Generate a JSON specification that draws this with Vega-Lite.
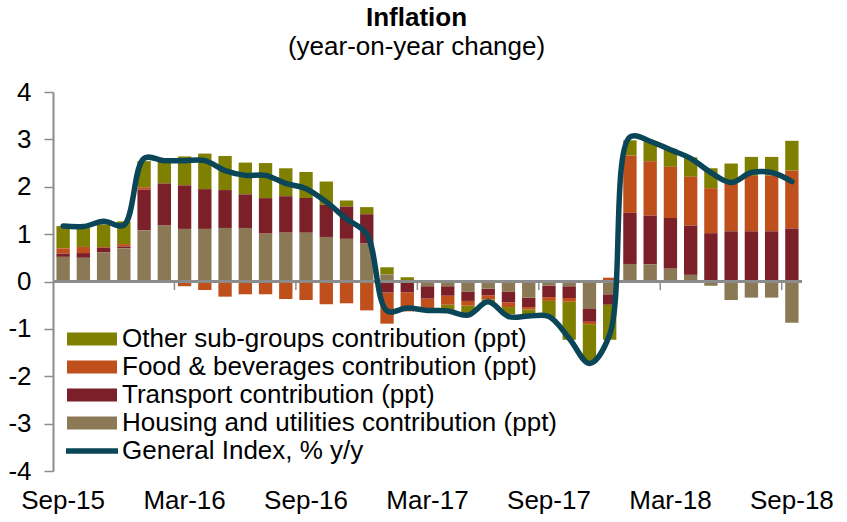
{
  "$schema": "https://vega.github.io/schema/vega-lite/v6.json",
  "width": 749,
  "height": 379,
  "autosize": "none",
  "padding": {"left": 53, "top": 92, "right": 45, "bottom": 51},
  "background": "white",
  "config": {
    "view": {"stroke": null},
    "font": "Liberation Sans",
    "axis": {"labelFont": "Liberation Sans", "labelFontSize": 26, "labelColor": "#000000", "grid": false, "title": null}
  },
  "title": {
    "text": "Inflation",
    "subtitle": "(year-on-year change)",
    "font": "Liberation Sans",
    "subtitleFont": "Liberation Sans",
    "fontSize": 26,
    "subtitleFontSize": 26,
    "fontWeight": "bold",
    "color": "#000000",
    "subtitleColor": "#000000",
    "anchor": "middle",
    "frame": "group",
    "dx": -11,
    "offset": 19,
    "subtitlePadding": 3
  },
  "data": {"values": [
    {"month": "Sep-15", "Housing and utilities contribution (ppt)": 0.52, "Transport contribution (ppt)": 0.07, "Food & beverages contribution (ppt)": 0.11, "Other sub-groups contribution (ppt)": 0.47, "general": 1.17},
    {"month": "Oct-15", "Housing and utilities contribution (ppt)": 0.50, "Transport contribution (ppt)": 0.10, "Food & beverages contribution (ppt)": 0.13, "Other sub-groups contribution (ppt)": 0.42, "general": 1.16},
    {"month": "Nov-15", "Housing and utilities contribution (ppt)": 0.61, "Transport contribution (ppt)": 0.10, "Food & beverages contribution (ppt)": 0.02, "Other sub-groups contribution (ppt)": 0.48, "general": 1.27},
    {"month": "Dec-15", "Housing and utilities contribution (ppt)": 0.70, "Transport contribution (ppt)": 0.04, "Food & beverages contribution (ppt)": 0.05, "Other sub-groups contribution (ppt)": 0.48, "general": 1.19},
    {"month": "Jan-16", "Housing and utilities contribution (ppt)": 1.08, "Transport contribution (ppt)": 0.86, "Food & beverages contribution (ppt)": 0.05, "Other sub-groups contribution (ppt)": 0.55, "general": 2.60},
    {"month": "Feb-16", "Housing and utilities contribution (ppt)": 1.18, "Transport contribution (ppt)": 0.89, "Food & beverages contribution (ppt)": 0.00, "Other sub-groups contribution (ppt)": 0.48, "general": 2.55},
    {"month": "Mar-16", "Housing and utilities contribution (ppt)": 1.11, "Transport contribution (ppt)": 0.92, "Food & beverages contribution (ppt)": -0.10, "Other sub-groups contribution (ppt)": 0.61, "general": 2.55},
    {"month": "Apr-16", "Housing and utilities contribution (ppt)": 1.11, "Transport contribution (ppt)": 0.84, "Food & beverages contribution (ppt)": -0.18, "Other sub-groups contribution (ppt)": 0.75, "general": 2.55},
    {"month": "May-16", "Housing and utilities contribution (ppt)": 1.13, "Transport contribution (ppt)": 0.80, "Food & beverages contribution (ppt)": -0.32, "Other sub-groups contribution (ppt)": 0.72, "general": 2.34},
    {"month": "Jun-16", "Housing and utilities contribution (ppt)": 1.13, "Transport contribution (ppt)": 0.71, "Food & beverages contribution (ppt)": -0.27, "Other sub-groups contribution (ppt)": 0.67, "general": 2.24},
    {"month": "Jul-16", "Housing and utilities contribution (ppt)": 1.01, "Transport contribution (ppt)": 0.75, "Food & beverages contribution (ppt)": -0.27, "Other sub-groups contribution (ppt)": 0.74, "general": 2.24},
    {"month": "Aug-16", "Housing and utilities contribution (ppt)": 1.03, "Transport contribution (ppt)": 0.77, "Food & beverages contribution (ppt)": -0.37, "Other sub-groups contribution (ppt)": 0.59, "general": 2.07},
    {"month": "Sep-16", "Housing and utilities contribution (ppt)": 1.03, "Transport contribution (ppt)": 0.73, "Food & beverages contribution (ppt)": -0.39, "Other sub-groups contribution (ppt)": 0.55, "general": 1.96},
    {"month": "Oct-16", "Housing and utilities contribution (ppt)": 0.94, "Transport contribution (ppt)": 0.68, "Food & beverages contribution (ppt)": -0.48, "Other sub-groups contribution (ppt)": 0.49, "general": 1.68},
    {"month": "Nov-16", "Housing and utilities contribution (ppt)": 0.90, "Transport contribution (ppt)": 0.68, "Food & beverages contribution (ppt)": -0.46, "Other sub-groups contribution (ppt)": 0.13, "general": 1.32},
    {"month": "Dec-16", "Housing and utilities contribution (ppt)": 0.80, "Transport contribution (ppt)": 0.62, "Food & beverages contribution (ppt)": -0.61, "Other sub-groups contribution (ppt)": 0.15, "general": 1.00},
    {"month": "Jan-17", "Housing and utilities contribution (ppt)": 0.15, "Transport contribution (ppt)": -0.23, "Food & beverages contribution (ppt)": -0.66, "Other sub-groups contribution (ppt)": 0.15, "general": -0.62},
    {"month": "Feb-17", "Housing and utilities contribution (ppt)": -0.03, "Transport contribution (ppt)": -0.20, "Food & beverages contribution (ppt)": -0.40, "Other sub-groups contribution (ppt)": 0.09, "general": -0.56},
    {"month": "Mar-17", "Housing and utilities contribution (ppt)": -0.10, "Transport contribution (ppt)": -0.26, "Food & beverages contribution (ppt)": -0.23, "Other sub-groups contribution (ppt)": 0.00, "general": -0.61},
    {"month": "Apr-17", "Housing and utilities contribution (ppt)": -0.10, "Transport contribution (ppt)": -0.20, "Food & beverages contribution (ppt)": -0.19, "Other sub-groups contribution (ppt)": -0.12, "general": -0.62},
    {"month": "May-17", "Housing and utilities contribution (ppt)": -0.21, "Transport contribution (ppt)": -0.20, "Food & beverages contribution (ppt)": -0.10, "Other sub-groups contribution (ppt)": -0.18, "general": -0.71},
    {"month": "Jun-17", "Housing and utilities contribution (ppt)": -0.15, "Transport contribution (ppt)": -0.14, "Food & beverages contribution (ppt)": -0.09, "Other sub-groups contribution (ppt)": -0.06, "general": -0.43},
    {"month": "Jul-17", "Housing and utilities contribution (ppt)": -0.21, "Transport contribution (ppt)": -0.23, "Food & beverages contribution (ppt)": -0.10, "Other sub-groups contribution (ppt)": -0.15, "general": -0.74},
    {"month": "Aug-17", "Housing and utilities contribution (ppt)": -0.34, "Transport contribution (ppt)": -0.20, "Food & beverages contribution (ppt)": -0.05, "Other sub-groups contribution (ppt)": -0.10, "general": -0.73},
    {"month": "Sep-17", "Housing and utilities contribution (ppt)": -0.09, "Transport contribution (ppt)": -0.24, "Food & beverages contribution (ppt)": -0.08, "Other sub-groups contribution (ppt)": -0.35, "general": -0.74},
    {"month": "Oct-17", "Housing and utilities contribution (ppt)": -0.10, "Transport contribution (ppt)": -0.25, "Food & beverages contribution (ppt)": -0.08, "Other sub-groups contribution (ppt)": -0.80, "general": -1.20},
    {"month": "Nov-17", "Housing and utilities contribution (ppt)": -0.58, "Transport contribution (ppt)": -0.27, "Food & beverages contribution (ppt)": -0.05, "Other sub-groups contribution (ppt)": -0.80, "general": -1.73},
    {"month": "Dec-17", "Housing and utilities contribution (ppt)": -0.27, "Transport contribution (ppt)": -0.22, "Food & beverages contribution (ppt)": 0.08, "Other sub-groups contribution (ppt)": -0.74, "general": -1.12},
    {"month": "Jan-18", "Housing and utilities contribution (ppt)": 0.37, "Transport contribution (ppt)": 1.08, "Food & beverages contribution (ppt)": 1.21, "Other sub-groups contribution (ppt)": 0.32, "general": 3.05},
    {"month": "Feb-18", "Housing and utilities contribution (ppt)": 0.36, "Transport contribution (ppt)": 1.03, "Food & beverages contribution (ppt)": 1.15, "Other sub-groups contribution (ppt)": 0.42, "general": 2.96},
    {"month": "Mar-18", "Housing and utilities contribution (ppt)": 0.27, "Transport contribution (ppt)": 1.07, "Food & beverages contribution (ppt)": 1.08, "Other sub-groups contribution (ppt)": 0.38, "general": 2.78},
    {"month": "Apr-18", "Housing and utilities contribution (ppt)": 0.14, "Transport contribution (ppt)": 1.04, "Food & beverages contribution (ppt)": 1.03, "Other sub-groups contribution (ppt)": 0.41, "general": 2.60},
    {"month": "May-18", "Housing and utilities contribution (ppt)": -0.09, "Transport contribution (ppt)": 1.02, "Food & beverages contribution (ppt)": 0.95, "Other sub-groups contribution (ppt)": 0.42, "general": 2.30},
    {"month": "Jun-18", "Housing and utilities contribution (ppt)": -0.39, "Transport contribution (ppt)": 1.06, "Food & beverages contribution (ppt)": 1.01, "Other sub-groups contribution (ppt)": 0.42, "general": 2.09},
    {"month": "Jul-18", "Housing and utilities contribution (ppt)": -0.34, "Transport contribution (ppt)": 1.06, "Food & beverages contribution (ppt)": 1.17, "Other sub-groups contribution (ppt)": 0.40, "general": 2.30},
    {"month": "Aug-18", "Housing and utilities contribution (ppt)": -0.34, "Transport contribution (ppt)": 1.06, "Food & beverages contribution (ppt)": 1.18, "Other sub-groups contribution (ppt)": 0.39, "general": 2.30},
    {"month": "Sep-18", "Housing and utilities contribution (ppt)": -0.87, "Transport contribution (ppt)": 1.12, "Food & beverages contribution (ppt)": 1.22, "Other sub-groups contribution (ppt)": 0.63, "general": 2.11}
  ]},
  "encoding": {
    "x": {
      "field": "month",
      "type": "ordinal",
      "sort": null,
      "scale": {"paddingInner": 0.34, "paddingOuter": 0.17},
      "axis": {
        "values": ["Sep-15", "Mar-16", "Sep-16", "Mar-17", "Sep-17", "Mar-18", "Sep-18"],
        "labelAngle": 0,
        "domain": false,
        "ticks": false,
        "labelPadding": 16
      }
    }
  },
  "layer": [
    {
      "transform": [
        {"fold": ["Other sub-groups contribution (ppt)", "Food & beverages contribution (ppt)", "Transport contribution (ppt)", "Housing and utilities contribution (ppt)"], "as": ["series", "value"]},
        {"calculate": "indexof(['Housing and utilities contribution (ppt)', 'Transport contribution (ppt)', 'Food & beverages contribution (ppt)', 'Other sub-groups contribution (ppt)'], datum.series)", "as": "stackrank"}
      ],
      "mark": {"type": "bar"},
      "encoding": {
        "y": {
          "field": "value",
          "type": "quantitative",
          "stack": "zero",
          "scale": {"domain": [-4, 4], "nice": false},
          "axis": {
            "values": [-4, -3, -2, -1, 0, 1, 2, 3, 4],
            "labelExpr": "replace(datum.label, '\u2212', '-')",
            "domainColor": "#8c8c8c",
            "domainWidth": 2,
            "tickColor": "#8c8c8c",
            "tickWidth": 1.5,
            "tickSize": 9,
            "labelPadding": 13
          }
        },
        "order": {"field": "stackrank", "type": "quantitative", "sort": "ascending"},
        "color": {
          "field": "series",
          "type": "nominal",
          "scale": {
            "domain": ["Other sub-groups contribution (ppt)", "Food & beverages contribution (ppt)", "Transport contribution (ppt)", "Housing and utilities contribution (ppt)"],
            "range": ["#808000", "#c0501b", "#7b2029", "#8b7855"]
          },
          "legend": {
            "title": null,
            "orient": "none",
            "legendX": 26,
            "legendY": 234,
            "padding": 0,
            "symbolType": "M-2.5,-0.65H2.5V0.65H-2.5Z",
            "symbolSize": 400,
            "symbolStrokeWidth": 0,
            "labelFont": "Liberation Sans",
            "labelFontSize": 26,
            "labelColor": "#000000",
            "labelLimit": 700,
            "labelOffset": 17,
            "rowPadding": 2
          }
        }
      }
    },
    {
      "mark": {"type": "rule", "color": "#8c8c8c", "strokeWidth": 2},
      "encoding": {"x": null, "y": {"datum": 0, "type": "quantitative"}}
    },
    {
      "transform": [{"filter": {"field": "month", "oneOf": ["Mar-16", "Sep-16", "Mar-17", "Sep-17", "Mar-18", "Sep-18"]}}],
      "mark": {"type": "rule", "color": "#8c8c8c", "strokeWidth": 1.5},
      "encoding": {
        "x": {"field": "month", "type": "ordinal", "sort": null, "bandPosition": -0.26},
        "y": {"datum": 0, "type": "quantitative"},
        "y2": {"datum": -0.18}
      }
    },
    {
      "mark": {"type": "line", "interpolate": "catmull-rom", "strokeWidth": 5.5, "strokeCap": "round", "strokeJoin": "round"},
      "encoding": {
        "y": {"field": "general", "type": "quantitative"},
        "stroke": {
          "datum": "General Index, % y/y",
          "type": "nominal",
          "scale": {"range": ["#0a4657"]},
          "legend": {
            "title": null,
            "orient": "none",
            "legendX": 26,
            "legendY": 346,
            "padding": 0,
            "symbolType": "M-2.6,0H2.6",
            "symbolSize": 400,
            "symbolStrokeWidth": 5.5,
            "labelFont": "Liberation Sans",
            "labelFontSize": 26,
            "labelColor": "#000000",
            "labelLimit": 700,
            "labelOffset": 17
          }
        }
      }
    }
  ]
}
